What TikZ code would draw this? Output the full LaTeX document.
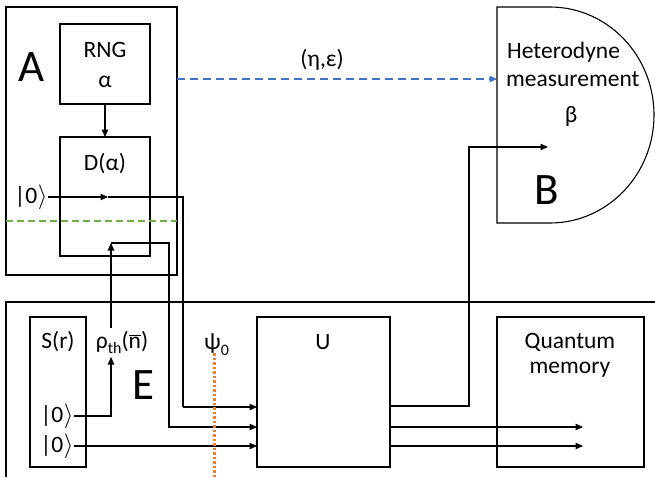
\documentclass[tikz,border=0pt]{standalone}
\usepackage{fontspec}
\setmainfont{Carlito}
\usetikzlibrary{arrows.meta}
\definecolor{bluedash}{HTML}{4472C4}
\definecolor{greendash}{HTML}{70AD47}
\definecolor{orangedot}{HTML}{ED7D31}
\newcommand{\ketz}{|0\hspace{0.5pt}$\rangle$}
\begin{document}
\begin{tikzpicture}[x=1pt,y=-1pt,
  box/.style={draw, line width=1.1pt, inner sep=0pt, outer sep=0pt},
  txt/.style={inner sep=0pt, font=\fontsize{23.5}{25}\selectfont},
  big/.style={inner sep=0pt, font=\fontsize{45}{45}\selectfont},
  wire/.style={line width=1.1pt},
  arr/.style={wire, -{Triangle[length=7.5pt,width=6.5pt]}},
  bluearr/.style={line width=1.4pt, bluedash, dash pattern=on 8pt off 5pt, -{Triangle[length=7.5pt,width=6.5pt]}},
  greenline/.style={line width=1.4pt, greendash, dash pattern=on 7pt off 4pt},
  orangeline/.style={line width=3pt, orangedot, dash pattern=on 2.5pt off 2pt}]
\useasboundingbox (0,0) rectangle (655,477);
% Alice box
\node[box, minimum width=171pt, minimum height=268pt] (A) at (91.5,141) {};
\node[box, minimum width=90pt, minimum height=80pt] (RNG) at (105,64) {};
\node[box, minimum width=90pt, minimum height=119pt] (D) at (105,196.5) {};
\node[txt] (rngt) at (105,50) {RNG};
\node[txt] (alpha) at (105,82) {α};
\node[txt] (dt) at (105,164) {D(α)};
\node[big] (Alab) at (32,67) {A};
\node[txt] (ket1) at (31,197) {\ketz};
% Bob detector
\draw[line width=1.1pt] (497,7) -- (550,7) .. controls (607.4,7) and (654,55.4) .. (654,115)
  .. controls (654,174.6) and (607.4,223) .. (550,223) -- (497,223) -- cycle;
\coordinate (Bin) at (497,79);
\node[txt, anchor=west] (het) at (507,52) {Heterodyne};
\node[txt, anchor=west] (meas) at (506,79) {measurement};
\node[txt] (beta) at (571,117) {β};
\node[big] (Blab) at (547,190) {B};
\node[txt] (etaeps) at (322,60) {(η,ε)};
% Eve
\draw[line width=1.1pt] (6,477) -- (6,302) -- (655,302);
\node[box, minimum width=56pt, minimum height=150pt] (S) at (58,392) {};
\node[box, minimum width=133pt, minimum height=150pt] (U) at (323.5,392) {};
\node[box, minimum width=147pt, minimum height=150pt] (QM) at (570.5,392) {};
\node[txt] (st) at (58,342) {S(r)};
\node[txt] (ket2) at (57,416) {\ketz};
\node[txt] (ket3) at (57,446) {\ketz};
\node[txt] (rho) at (122,342) {ρ\raisebox{-0.45ex}{\fontsize{16}{16}\selectfont th}($\overline{\mbox{n}}$)};
\node[txt, anchor=base west] (psi) at (204,349) {ψ\raisebox{-0.6ex}{\fontsize{16}{16}\selectfont 0}};
\node[big] (Elab) at (143,385) {E};
\node[txt] (ut) at (323,342) {U};
\node[txt] (qt) at (570,342) {Quantum};
\node[txt] (mt) at (570,370) {memory};
% connectors
\draw[arr] (RNG) -- (D);
\draw[bluearr] (A.east |- Bin) -- (Bin);
\draw[greenline] (A.west |- 0,221) -- (A.east |- 0,221);
\coordinate (m1) at (108,197);
\draw[arr] (ket1.east) -- (m1);
\draw[wire] (m1) -- (183,197) -- (183,407);
\draw[arr] (183,407) -- (U.west |- 0,407);
\coordinate (rhoin) at (111,243);
\draw[arr] (rho.north -| rhoin) ++(0,-3) -- (rhoin);
\draw[arr] (rhoin) -- (169,243) -- (169,427) -- (U.west |- 0,427);
\coordinate (rhotip) at (111,357);
\draw[arr] (ket2.east) -- (ket2.east -| rhotip) -- (rhotip);
\draw[arr] (ket3.east) -- (U.west |- ket3.east);
\coordinate (bdet) at (548,147);
\draw[arr] (U.east |- 0,406) -- (469,406) -- (469,147) -- (bdet);
\draw[arr] (U.east |- 0,427) -- (583,427);
\draw[arr] (U.east |- 0,446) -- (583,446);
\draw[orangeline] (214,353) -- (214,477);
\end{tikzpicture}
\end{document}
